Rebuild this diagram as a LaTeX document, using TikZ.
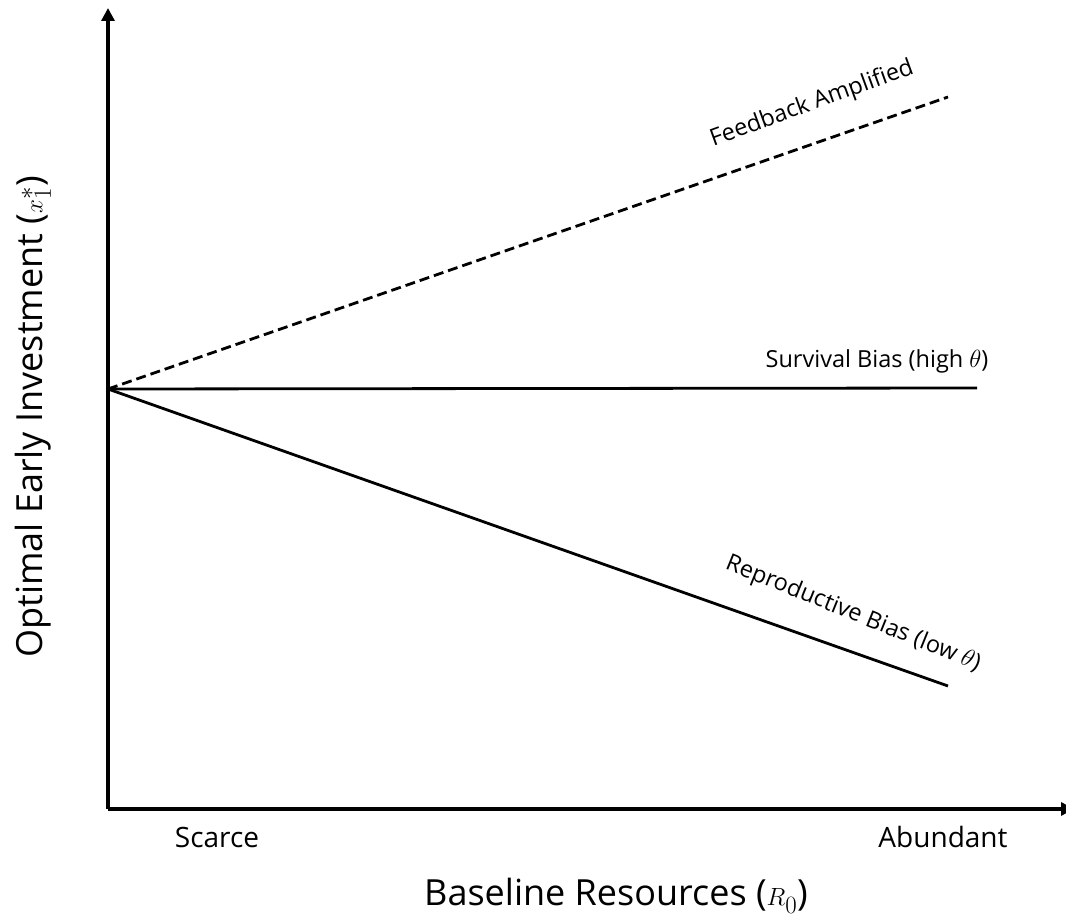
\documentclass[tikz,border=0pt]{standalone}
\usepackage{fontspec}
\setmainfont{Open Sans}
\usetikzlibrary{arrows.meta}
\begin{document}
\begin{tikzpicture}[x=1pt,y=-1pt,
  axisline/.style={line width=3.4pt,-{Triangle[length=13pt,width=13pt]}},
  curve/.style={line width=2.8pt},
  lbl/.style={font=\fontsize{23.5}{26}\selectfont,inner sep=0pt},
  ticklbl/.style={font=\fontsize{28}{30}\selectfont,inner sep=0pt},
  title/.style={font=\fontsize{36}{40}\selectfont,inner sep=0pt}]
\useasboundingbox (0,0) rectangle (1066,917);
\fill[white] (0,0) rectangle (1066,917);
\coordinate (corner) at (108,809);
\coordinate (ytop) at (108,8);
\coordinate (xend) at (1074,809);
\coordinate (O) at (108,389);
\coordinate (fa) at (948,97);
\coordinate (sb) at (977,388);
\coordinate (rb) at (948,686);
\draw[axisline] (corner) -- (ytop);
\draw[axisline] (corner) -- (xend);
\draw[curve,dash pattern=on 10pt off 5pt] (O) -- (fa);
\draw[curve] (O) -- (sb);
\draw[curve] (O) -- (rb);
\node[lbl,rotate=20] (lfa) at (812,104) {Feedback Amplified};
\node[lbl] (lsb) at (877,361) {Survival Bias (high $\theta$)};
\node[lbl,rotate=-22] (lrb) at (853,614) {Reproductive Bias (low $\theta$)};
\node[ticklbl] (scarce) at (217,837) {Scarce};
\node[ticklbl] (abund) at (943,837) {Abundant};
\node[title] (xt) at (616,896) {Baseline Resources ($R_0$)};
\node[title,rotate=90] (yt) at (33,417) {Optimal Early Investment ($x_1^*$)};
\end{tikzpicture}
\end{document}
